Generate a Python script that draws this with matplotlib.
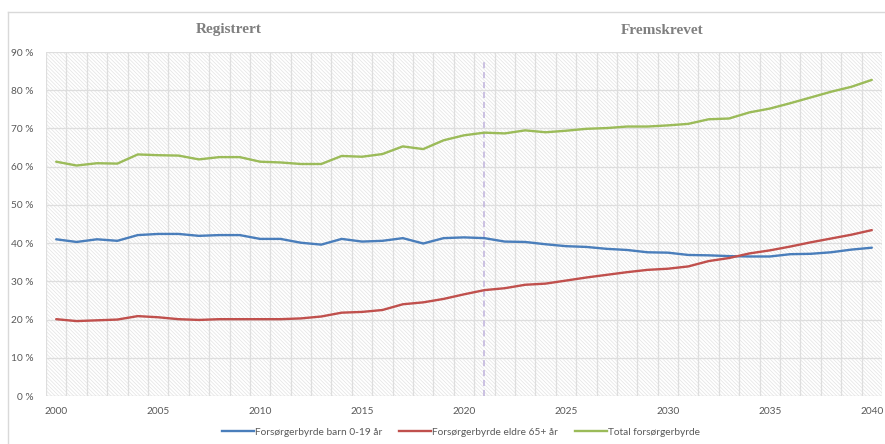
import matplotlib
matplotlib.use("Agg")
import matplotlib.pyplot as plt
from matplotlib.patches import Rectangle
from matplotlib.lines import Line2D
import numpy as np

years = list(range(2000, 2041))
barn = [41.0, 40.3, 41.0, 40.6, 42.1, 42.4, 42.4, 41.9, 42.1, 42.1,
        41.1, 41.1, 40.1, 39.6, 41.1, 40.4, 40.6, 41.3, 39.9, 41.3,
        41.5, 41.3, 40.4, 40.3, 39.7, 39.2, 39.0, 38.5, 38.2, 37.6,
        37.5, 36.9, 36.8, 36.6, 36.5, 36.5, 37.1, 37.2, 37.6, 38.3, 38.8]
eldre = [20.1, 19.6, 19.8, 20.0, 20.9, 20.6, 20.1, 19.9, 20.1, 20.1,
         20.1, 20.1, 20.3, 20.8, 21.8, 22.0, 22.5, 24.0, 24.5, 25.4,
         26.6, 27.7, 28.2, 29.1, 29.4, 30.2, 31.0, 31.7, 32.4, 33.0,
         33.3, 33.9, 35.3, 36.1, 37.3, 38.1, 39.1, 40.2, 41.2, 42.2, 43.4]
total = [61.3, 60.3, 60.9, 60.8, 63.2, 63.0, 62.9, 61.9, 62.5, 62.5,
         61.3, 61.1, 60.7, 60.7, 62.8, 62.6, 63.3, 65.3, 64.6, 66.9,
         68.2, 68.9, 68.7, 69.5, 69.0, 69.4, 69.9, 70.1, 70.5, 70.5,
         70.8, 71.2, 72.4, 72.6, 74.2, 75.2, 76.6, 78.1, 79.6, 80.9, 82.7]
labels = ["Forsørgerbyrde barn 0-19 år", "Forsørgerbyrde eldre 65+ år", "Total forsørgerbyrde"]
colors = ["#4a7ebb", "#c0504d", "#9bbb59"]
split_year = 2021
section_titles = ["Registrert", "Fremskrevet"]

W, H = 885, 444
fig = plt.figure(figsize=(W / 100, H / 100), dpi=100)
ax = fig.add_axes([46 / W, (H - 396) / H, (882 - 46) / W, (396 - 52) / H])

plt.rcParams['hatch.linewidth'] = 0.5
bg = Rectangle((0, 0), 1, 1, transform=ax.transAxes, facecolor="white",
               edgecolor="#e3e3e3", hatch="\\" * 9, linewidth=0, zorder=0)
ax.add_patch(bg)

ax.set_xlim(1999.5, 2040.5)
ax.set_ylim(0, 90)
for y in range(10, 91, 10):
    ax.axhline(y, color="#dedede", lw=0.9, zorder=1)
for x in np.arange(1999.5, 2041, 1):
    ax.axvline(x, color="#dedede", lw=0.9, zorder=1)
ax.axhline(0, color="#d9d9d9", lw=1.0, zorder=1)

for vals, lab, c in zip([barn, eldre, total], labels, colors):
    ax.plot(years, vals, color=c, lw=1.7, label=lab, zorder=3, solid_capstyle="round")

ax.plot([split_year, split_year], [0, 88.2], color="#bfb2dc", lw=1.1,
        ls=(0, (4, 2.5)), zorder=2)

for s in ax.spines.values():
    s.set_visible(False)

tick_font = dict(family="Lato", size=7.3, color="#595959")
ax.set_xticks(range(2000, 2041, 5))
ax.set_xticklabels([str(y) for y in range(2000, 2041, 5)], **tick_font)
ax.set_yticks(range(0, 91, 10))
ax.set_yticklabels([f"{y} %" for y in range(0, 91, 10)], **tick_font)
ax.tick_params(length=0, pad=8)
ax.tick_params(axis="y", pad=9)

title_font = dict(family="Liberation Serif", size=11, weight="bold", color="#7f7f7f",
                  ha="center", va="center")
fig.text(229 / W, 1 - 30 / H, section_titles[0], **title_font)
fig.text(662 / W, 1 - 30 / H, section_titles[1], **title_font)

handles = [Line2D([0], [0], color=c, lw=1.7) for c in colors]
leg = fig.legend(handles, labels, loc="center", bbox_to_anchor=(461 / W, 1 - 432 / H),
                 ncol=3, frameon=False, prop=dict(family="Lato", size=7.3),
                 handlelength=3.2, handletextpad=0.1, columnspacing=1.6)
for t in leg.get_texts():
    t.set_color("#595959")

fig.add_artist(Line2D([8 / W, 8 / W], [0, 1 - 12 / H], color="#d9d9d9", lw=1.0,
                      transform=fig.transFigure))
fig.add_artist(Line2D([8 / W, 1], [1 - 12 / H, 1 - 12 / H], color="#d9d9d9", lw=1.0,
                      transform=fig.transFigure))

fig.savefig("out.png", dpi=100)
